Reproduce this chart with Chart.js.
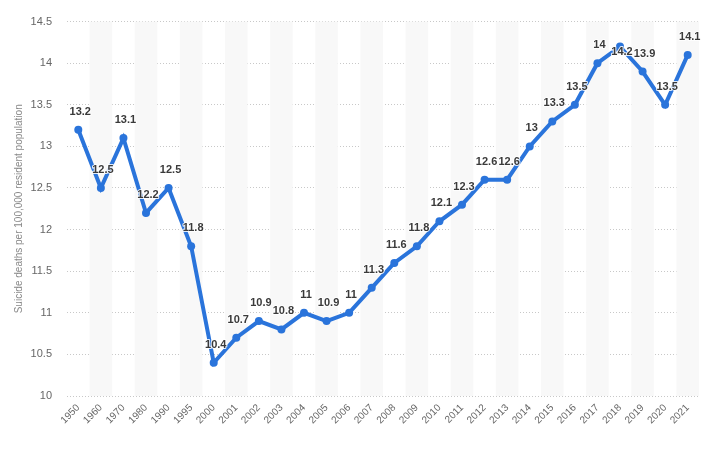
<!DOCTYPE html>
<html>
<head>
<meta charset="utf-8">
<script src="https://cdn.jsdelivr.net/npm/chart.js@4"></script>
<style>
html,body{margin:0;padding:0;background:#fff;}
#wrap{width:705px;height:450px;}
</style>
</head>
<body>
<div id="wrap"><canvas id="c" width="705" height="450"></canvas></div>
<script>
const years = ["1950","1960","1970","1980","1990","1995","2000","2001","2002","2003","2004","2005","2006","2007","2008","2009","2010","2011","2012","2013","2014","2015","2016","2017","2018","2019","2020","2021"];
const rates = [13.2,12.5,13.1,12.2,12.5,11.8,10.4,10.7,10.9,10.8,11,10.9,11,11.3,11.6,11.8,12.1,12.3,12.6,12.6,13,13.3,13.5,14,14.2,13.9,13.5,14.1];
const yTitle = "Suicide deaths per 100,000 resident population";
const FONT = "'Liberation Sans', Arial, sans-serif";

const bandPlugin = {
  id: 'bands',
  beforeDatasetsDraw(chart) {
    const {ctx, chartArea, scales:{x}} = chart;
    const w = x.getPixelForValue(1) - x.getPixelForValue(0);
    ctx.save();
    ctx.fillStyle = '#f8f8f8';
    for (let i = 1; i < years.length; i += 2) {
      const cx = x.getPixelForValue(i);
      ctx.fillRect(cx - w/2, chartArea.top, w, chartArea.bottom - chartArea.top);
    }
    ctx.restore();
  },
  afterDatasetsDraw(chart) {
    const {ctx, chartArea} = chart;
    const meta = chart.getDatasetMeta(0);
    ctx.save();
    ctx.font = 'bold 11px ' + FONT;
    ctx.textAlign = 'center';
    ctx.textBaseline = 'middle';
    ctx.lineJoin = 'round';
    ctx.lineWidth = 2;
    ctx.strokeStyle = 'rgba(255,255,255,0.85)';
    ctx.fillStyle = '#3a3a3a';
    meta.data.forEach((pt, i) => {
      let ly = pt.y - 18;
      if (ly - 7 < chartArea.top + 1) ly = pt.y + 5; // keep inside plot area
      const t = String(rates[i]);
      ctx.strokeText(t, pt.x + 2, ly);
      ctx.fillText(t, pt.x + 2, ly);
    });
    ctx.restore();
  }
};

new Chart(document.getElementById('c'), {
  type: 'line',
  data: {
    labels: years,
    datasets: [{
      data: rates,
      borderColor: '#2a74db',
      backgroundColor: '#2a74db',
      borderWidth: 4,
      pointRadius: 4,
      pointBorderWidth: 0,
      pointHoverRadius: 4,
      tension: 0,
      clip: false
    }]
  },
  options: {
    responsive: false,
    animation: false,
    layout: { padding: { top: 18, right: 6, left: 13, bottom: 0 } },
    plugins: { legend: { display: false }, tooltip: { enabled: false } },
    scales: {
      x: {
        offset: true,
        grid: { display: false, drawTicks: false, offset: true },
        border: { display: false },
        ticks: {
          maxRotation: 45, minRotation: 45, autoSkip: false,
          color: '#666', font: { family: FONT, size: 10 }, padding: 6
        },
        afterFit(s) { s.height = 54; }
      },
      y: {
        min: 10, max: 14.5,
        grid: { color: '#c8c8c8', drawTicks: false, lineWidth: 1 },
        border: { display: false, dash: [1, 2] },
        ticks: {
          stepSize: 0.5, color: '#666', font: { family: FONT, size: 11 }, padding: 15,
          callback: v => String(v)
        },
        title: { display: true, text: yTitle, color: '#888', font: { family: FONT, size: 10 }, padding: { top: 0, bottom: 4 } },
        afterFit(s) { s.width = 54; }
      }
    }
  },
  plugins: [bandPlugin]
});
</script>
</body>
</html>
